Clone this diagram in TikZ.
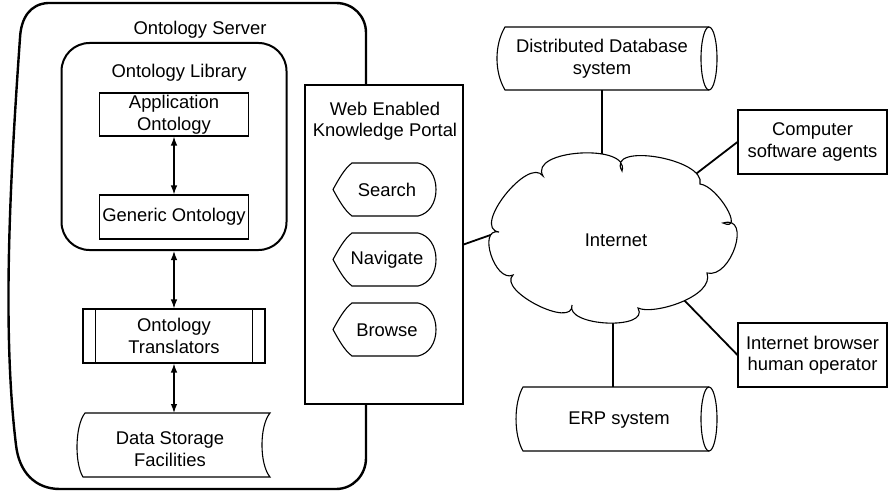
\documentclass[tikz,border=0pt]{standalone}
\usepackage{fontspec}
\setmainfont{Liberation Sans}
\usetikzlibrary{arrows.meta,calc}

\tikzset{
  labeltext/.style={font=\fontsize{18.4}{21.5}\selectfont, align=center, inner sep=0pt},
  thinbox/.style={draw, line width=1.1pt, fill=white},
  link/.style={line width=1.8pt},
  dblarrow/.style={line width=1.2pt, {Latex[length=9pt,width=6.5pt]}-{Latex[length=9pt,width=6.5pt]}},
  displayshape/.pic={
    \draw[line width=1.1pt, fill=white]
      (-51.5,0) .. controls (-46,-10) and (-40,-21) .. (-32.5,-26.5)
      -- (33.5,-26.5) .. controls (45,-24) and (51.5,-13) .. (51.5,0)
      .. controls (51.5,13) and (45,24) .. (33.5,26.5)
      -- (-32.5,26.5) .. controls (-40,21) and (-46,10) .. (-51.5,0) -- cycle;
  }
}

\begin{document}
\begin{tikzpicture}[x=1pt,y=-1pt, every node/.style={labeltext}]
\useasboundingbox (0,0) rectangle (888,492);

% ---------- Ontology server ----------
\draw[line width=2.4pt] (48,3) -- (336,3) .. controls (353,3) and (366,16) .. (366,33)
  -- (366,458) .. controls (366,475) and (353,489) .. (336,489)
  -- (60,489) .. controls (35,489) and (19,472) .. (16,445)
  .. controls (2,330) and (10,180) .. (20,38)
  .. controls (21,18) and (30,4) .. (48,3) -- cycle;
\node (srvlabel) at (200,30) {Ontology Server};

% library with its two ontologies
\node[draw, line width=2pt, rounded corners=28pt, minimum width=225pt, minimum height=207pt] (lib) at (174,146.5) {};
\node (liblabel) at (179,73) {Ontology Library};
\node[thinbox, minimum width=149pt, minimum height=43pt] (app) at (174,114.5) {Application\\Ontology};
\node[thinbox, minimum width=149pt, minimum height=44pt] (gen) at (174,217) {Generic Ontology};
\draw[dblarrow] (app.south) -- (gen.north);

% translators (predefined process box)
\node[thinbox, minimum width=182pt, minimum height=54pt] (trans) at (174,336) {Ontology\\Translators};
\draw[line width=1.1pt] ($(trans.north west)+(13,0)$) -- ($(trans.south west)+(13,0)$);
\draw[line width=1.1pt] ($(trans.north east)+(-13,0)$) -- ($(trans.south east)+(-13,0)$);
\draw[dblarrow] (lib.south) -- (trans.north);

% data storage
\draw[thinbox] (85,413) -- (270,413) .. controls (259.3,426) and (259.3,464) .. (270,477)
  -- (83,477) .. controls (74.7,464) and (74.7,426) .. (85,413) -- cycle;
\coordinate (storetop) at (174,413);
\node (store) at (170,449) {Data Storage\\Facilities};
\draw[dblarrow] (trans.south) -- (storetop);

% ---------- Knowledge portal ----------
\node[thinbox, minimum width=158pt, minimum height=319pt] (portal) at (384,244.5) {};
\node (portallabel) at (385,121) {Web Enabled\\Knowledge Portal};
\pic at (384.5,189.5) {displayshape};
\pic at (384.5,259.5) {displayshape};
\pic at (384.5,329.5) {displayshape};
\node (search) at (387,190) {Search};
\node (navigate) at (387,260) {Navigate};
\node (browse) at (387,330) {Browse};

% ---------- Databases ----------
\draw[line width=1.1pt] (709,27) -- (505,27) .. controls (494.3,45) and (494.3,72) .. (505,90) -- (709,90);
\draw[line width=1.1pt] (709,58.5) ellipse [x radius=8pt, y radius=31.5pt];
\node[minimum height=63pt] (ddb) at (602,58.5) {Distributed Database\\system};

\draw[line width=1.1pt] (709,387) -- (523,387) .. controls (513.7,403) and (513.7,435) .. (523,451) -- (709,451);
\draw[line width=1.1pt] (709,419) ellipse [x radius=8pt, y radius=32pt];
\node (erp) at (619,420) {ERP system};
\coordinate (erptop) at (613,387);

% ---------- Users ----------
\node[thinbox, minimum width=149pt, minimum height=64pt] (agents) at (812.5,142) {Computer\\software agents};
\node[thinbox, minimum width=149pt, minimum height=64pt] (browser) at (812.5,355) {Internet browser\\human operator};

% ---------- Internet cloud and its links ----------
\coordinate (clw) at (499,232);
\coordinate (cln) at (602,166);
\coordinate (clne) at (688,180);
\coordinate (clse) at (684,300);
\coordinate (cls) at (613,316);

\draw[link] (portal.east) -- (clw);
\draw[link] (ddb.south) -- (cln);
\draw[link] (agents.west) -- (clne);
\draw[link] (browser.west) -- (clse);
\draw[link] (erptop) -- (cls);

\draw[line width=1.1pt, fill=white] (622,171)
  .. controls (605,141.7) and (706.4,158.7) .. (700,184)
  .. controls (717.7,186.1) and (745.3,232.9) .. (723,223)
  .. controls (752.1,214.2) and (731.3,279.2) .. (707,273)
  .. controls (714.9,296.5) and (653.1,315.5) .. (638,308)
  .. controls (650.6,330.5) and (564.8,326.6) .. (572,305)
  .. controls (573.6,329.5) and (496.8,290.5) .. (513,275)
  .. controls (495.1,283.5) and (476.9,227.5) .. (499,232)
  .. controls (471.1,228.4) and (528.3,155.6) .. (543,176)
  .. controls (527.8,149.5) and (630.6,143) .. (622,171) -- cycle;
\node (inet) at (616,240) {Internet};
\end{tikzpicture}
\end{document}
